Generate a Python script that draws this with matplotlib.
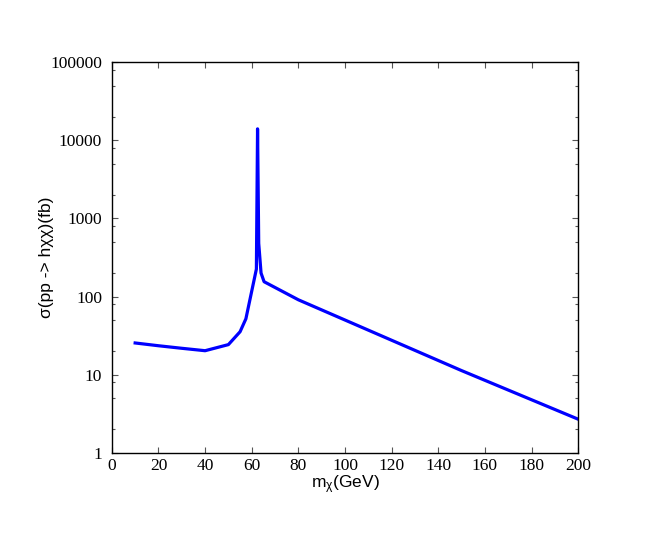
import matplotlib
matplotlib.use("Agg")
import matplotlib.pyplot as plt
from matplotlib.ticker import LogLocator, FixedLocator

# cross section vs dark matter mass
mass = [10, 20, 30, 40, 50, 55, 57.5, 62, 62.5, 63, 64, 65.3, 80, 150, 200]
sigma = [25.5, 23.5, 21.8, 20.3, 24.3, 35.5, 52, 225, 14000, 480, 200, 155, 91, 11.3, 2.7]

xticks = [0, 20, 40, 60, 80, 100, 120, 140, 160, 180, 200]
yticks = [1, 10, 100, 1000, 10000, 100000]
ytick_labels = ["1", "10", "100", "1000", "10000", "100000"]

plt.rcParams["mathtext.fontset"] = "custom"
plt.rcParams["mathtext.rm"] = "Liberation Sans"
plt.rcParams["mathtext.it"] = "Liberation Sans:italic"

fig = plt.figure(figsize=(6.54, 5.45), dpi=100)
ax = fig.add_axes([0.171, 0.169, 0.713, 0.717])

ax.plot(mass, sigma, color="#0000ff", lw=2.3)

ax.set_yscale("log")
ax.set_xlim(0, 200)
ax.set_ylim(1, 100000)
ax.set_xticks(xticks)
ax.set_yticks(yticks)
ax.set_yticklabels(ytick_labels)
ax.yaxis.set_minor_locator(LogLocator(base=10, subs=[2, 5, 8]))
ax.xaxis.set_minor_locator(FixedLocator([]))

ax.tick_params(which="both", direction="in", top=True, right=True, width=0.8, color="#555555")
ax.tick_params(which="major", length=4.5)
ax.tick_params(which="minor", length=2.5)
for lab in ax.get_xticklabels() + ax.get_yticklabels():
    lab.set_fontfamily("Liberation Serif")
    lab.set_fontsize(12.5)
ax.tick_params(axis="x", pad=4)
ax.tick_params(axis="y", pad=7)

for s in ax.spines.values():
    s.set_linewidth(1.0)

ax.set_xlabel(r"m$_\mathrm{\chi}$(GeV)", fontfamily="Liberation Sans", fontsize=12.5)
ax.set_ylabel("σ(pp -> hχχ)(fb)", fontfamily="Liberation Sans", fontsize=12.5)
ax.xaxis.set_label_coords(0.5, -0.053)
ax.yaxis.set_label_coords(-0.125, 0.5)

fig.savefig("out.png", dpi=100)
